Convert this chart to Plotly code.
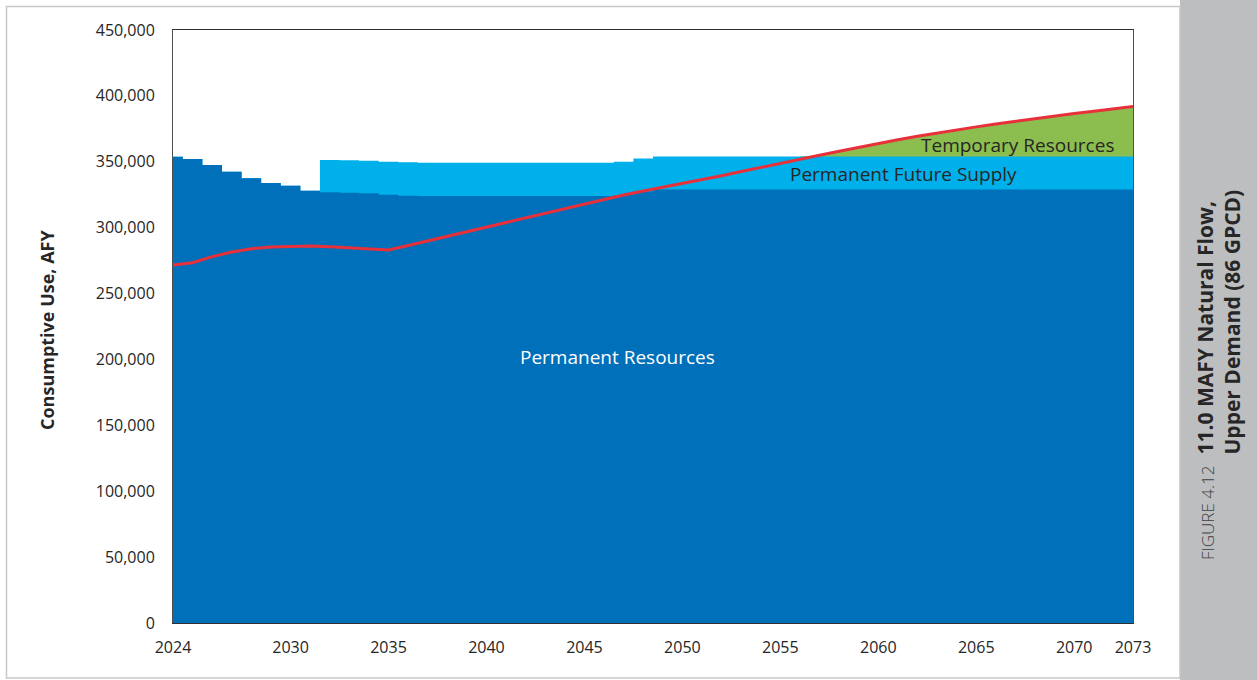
import plotly.graph_objects as go

# ---------------- data ----------------
years = list(range(2024, 2074))

permanent_resources = [
    353900, 352100, 347500, 342500, 337500, 333900, 331900, 328100,   # 2024-2031
    326800, 326500, 326100, 325000, 324300,                           # 2032-2036
    324000, 324000, 324000, 324000, 324000, 324000, 324000, 324000, 324000, 324000,  # 2037-2046
    324800, 327500,                                                   # 2047-2048
    329000, 329000, 329000, 329000, 329000, 329000, 329000, 329000, 329000, 329000,  # 2049-2058
    329000, 329000, 329000, 329000, 329000, 329000, 329000, 329000, 329000, 329000,  # 2059-2068
    329000, 329000, 329000, 329000, 329000,                           # 2069-2073
]

permanent_future_supply = [
    0, 0, 0, 0, 0, 0, 0, 0,                                           # 2024-2031
    24600, 24600, 24700, 25100, 25300,                                # 2032-2036
    25300, 25300, 25300, 25300, 25300, 25300, 25300, 25300, 25300, 25300,  # 2037-2046
    25200, 25000,                                                     # 2047-2048
    25000, 25000, 25000, 25000, 25000, 25000, 25000, 25000, 25000, 25000,  # 2049-2058
    25000, 25000, 25000, 25000, 25000, 25000, 25000, 25000, 25000, 25000,  # 2059-2068
    25000, 25000, 25000, 25000, 25000,                                # 2069-2073
]

temporary_resources = [
    0, 0, 0, 0, 0, 0, 0, 0, 0, 0,                                     # 2024-2033
    0, 0, 0, 0, 0, 0, 0, 0, 0, 0,                                     # 2034-2043
    0, 0, 0, 0, 0, 0, 0, 0, 0, 0,                                     # 2044-2053
    0, 0, 0,                                                          # 2054-2056
    1000, 4000, 7000, 10000, 12700, 15300, 17800, 20200, 22500, 24700,  # 2057-2066
    26800, 28800, 30700, 32600, 34400, 36200, 38000,                  # 2067-2073
]

demand = [
    271700, 273400, 278000, 281500, 284000, 285300, 285800, 286100, 285600, 284800,  # 2024-2033
    284000, 283000, 286500, 290000, 293500, 297000, 300500, 304000, 307500, 311000,  # 2034-2043
    314600, 318200, 321500, 324800, 327800, 330600, 333400, 336400, 339400, 342600,  # 2044-2053
    345800, 348900, 352000, 355000, 358000, 361000, 364000, 366700, 369300, 371800,  # 2054-2063
    374200, 376500, 378700, 380800, 382800, 384700, 386600, 388400, 390200, 392000,  # 2064-2073
]

x_tick_values = [2024, 2030, 2035, 2040, 2045, 2050, 2055, 2060, 2065, 2070, 2073]
y_tick_values = [0, 50000, 100000, 150000, 200000, 250000, 300000, 350000, 400000, 450000]

# ---------------- derived stacking ----------------
pfs_top = [a + b for a, b in zip(permanent_resources, permanent_future_supply)]
temp_top = [a + b for a, b in zip(pfs_top, temporary_resources)]
green_start = years.index(2056)

DARK = "#0070BA"
LIGHT = "#00B0EA"
GREEN = "#8CBD4F"
RED = "#E8303A"
FONT = "Open Sans"

fig = go.Figure()

fig.add_trace(go.Scatter(
    x=years[green_start:], y=temp_top[green_start:], mode="lines",
    line=dict(width=0, shape="linear", color=GREEN),
    fill="tozeroy", fillcolor=GREEN, hoverinfo="skip", showlegend=False,
    name="Temporary Resources"))

fig.add_trace(go.Scatter(
    x=years, y=pfs_top, mode="lines",
    line=dict(width=0, shape="hvh", color=LIGHT),
    fill="tozeroy", fillcolor=LIGHT, showlegend=False,
    name="Permanent Future Supply"))

fig.add_trace(go.Scatter(
    x=years, y=permanent_resources, mode="lines",
    line=dict(width=0, shape="hvh", color=DARK),
    fill="tozeroy", fillcolor=DARK, showlegend=False,
    name="Permanent Resources"))

fig.add_trace(go.Scatter(
    x=years, y=demand, mode="lines",
    line=dict(width=3, color=RED), showlegend=False, name="Demand"))

# ---------------- layout ----------------
L, R, T, B = 173, 124, 30, 57
W, H = 1257, 680
pw, ph = W - L - R, H - T - B


def px(xp):
    return (xp - L) / pw


def py(yp):
    return (H - B - yp) / ph


fig.update_layout(
    width=W, height=H,
    margin=dict(l=L, r=R, t=T, b=B),
    paper_bgcolor="white", plot_bgcolor="white",
    font=dict(family=FONT, size=16, color="#262626"),
    showlegend=False,
    xaxis=dict(
        range=[2024, 2073], tickmode="array", tickvals=x_tick_values,
        ticktext=[str(v) for v in x_tick_values],
        showgrid=False, zeroline=False, ticks="",
        showline=True, linecolor="#303030", linewidth=1, mirror=True,
        ticklabelstandoff=10,
        tickfont=dict(family=FONT, size=16, color="#262626"),
    ),
    yaxis=dict(
        range=[0, 450000], tickmode="array", tickvals=y_tick_values,
        tickformat=",d", showgrid=False, zeroline=False, ticks="",
        showline=True, linecolor="#505050", linewidth=1, mirror=True,
        ticklabelstandoff=14,
        tickfont=dict(family=FONT, size=16, color="#262626"),
    ),
    shapes=[
        dict(type="rect", xref="paper", yref="paper",
             x0=px(1180), x1=px(1258), y0=py(681), y1=py(-1),
             fillcolor="#BDBEC0", line=dict(width=0), layer="below"),
        dict(type="rect", xref="paper", yref="paper",
             x0=px(6.5), x1=px(1180), y0=py(678), y1=py(6.5),
             fillcolor="rgba(0,0,0,0)", line=dict(width=1.5, color="#C8C8C8"),
             layer="below"),
    ],
    annotations=[
        dict(text="<b>Consumptive Use, AFY</b>", xref="paper", yref="paper",
             x=px(47), y=py(330), textangle=-90, showarrow=False,
             font=dict(family=FONT, size=18, color="#262626"),
             xanchor="center", yanchor="middle"),
        dict(text="Permanent Resources", xref="paper", yref="paper",
             x=px(617), y=py(357), showarrow=False,
             font=dict(family=FONT, size=19, color="white"),
             xanchor="center", yanchor="middle"),
        dict(text="Permanent Future Supply", xref="paper", yref="paper",
             x=px(903), y=py(174), showarrow=False,
             font=dict(family=FONT, size=19, color="#262626"),
             xanchor="center", yanchor="middle"),
        dict(text="Temporary Resources", xref="paper", yref="paper",
             x=px(1017), y=py(145), showarrow=False,
             font=dict(family=FONT, size=19, color="#262626"),
             xanchor="center", yanchor="middle"),
        dict(text="FIGURE 4.12", xref="paper", yref="paper",
             x=px(1207), y=py(562), textangle=-90, showarrow=False,
             font=dict(family=FONT, size=17, color="#404040", weight=300),
             xanchor="center", yanchor="bottom"),
        dict(text="<b>11.0 MAFY Natural Flow,</b><br><b>Upper Demand (86 GPCD)</b>",
             xref="paper", yref="paper",
             x=px(1218), y=py(457), textangle=-90, showarrow=False,
             align="left",
             font=dict(family=FONT, size=21, color="#262626"),
             xanchor="center", yanchor="bottom"),
    ],
)

fig.write_html("out.html", config={"displayModeBar": False},
               post_script="document.body.style.margin='0';")
